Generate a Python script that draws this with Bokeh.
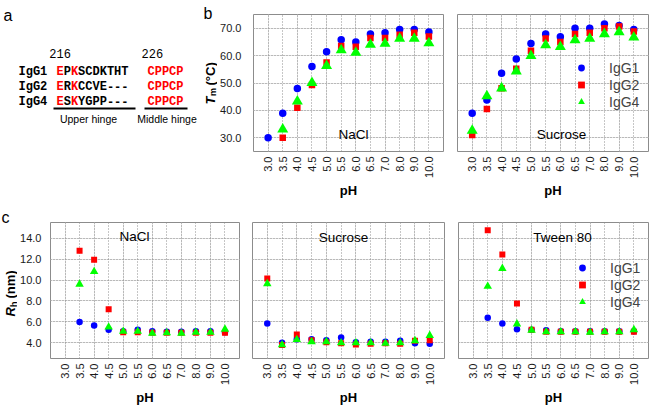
import math
from bokeh.plotting import figure
from bokeh.layouts import row, column
from bokeh.models import (Range1d, LinearAxis, Grid, FixedTicker, Label, Legend,
                          LegendItem, NumeralTickFormatter, ColumnDataSource)
from bokeh.core.properties import value
from bokeh.embed import file_html
from bokeh.resources import INLINE
try:
    from bokeh.models import GlobalInlineStyleSheet
except Exception:
    GlobalInlineStyleSheet = None

NA = float("nan")

# ---------------- data ----------------
ph_labels = ["3.0", "3.5", "4.0", "4.5", "5.0", "5.5", "6.0", "6.5", "7.0", "8.0", "9.0", "10.0"]
series_names = ["IgG1", "IgG2", "IgG4"]

tm_ticks = [30, 40, 50, 60, 70]
rh_ticks = [4, 6, 8, 10, 12, 14]

tm_nacl_igg1 = [30.0, 39.0, 48.0, 56.0, 61.4, 65.8, 65.0, 67.9, 68.3, 69.5, 69.5, 68.6]
tm_nacl_igg2 = [NA, 30.0, 41.0, 49.3, 57.5, 63.5, 63.2, 66.4, 66.4, 67.6, 68.3, 67.0]
tm_nacl_igg4 = [NA, 33.1, 43.3, 50.1, 56.3, 62.0, 61.1, 64.0, 64.4, 66.2, 66.2, 64.6]

tm_suc_igg1 = [39.0, 43.8, 53.6, 58.8, 64.4, 67.9, 66.9, 70.0, 70.0, 71.5, 71.0, 69.5]
tm_suc_igg2 = [31.0, 40.5, 48.1, 55.2, 61.8, 66.2, 65.0, 67.9, 68.3, 70.0, 70.6, 68.8]
tm_suc_igg4 = [32.6, 45.2, 48.1, 54.3, 59.9, 63.8, 63.2, 65.7, 66.2, 67.9, 68.6, 66.7]

rh_nacl_igg1 = [NA, 6.0, 5.65, 5.25, 5.1, 5.25, 5.1, 5.05, 5.05, 5.1, 5.1, 5.0]
rh_nacl_igg2 = [NA, 12.8, 11.95, 7.2, 5.0, 5.0, 4.95, 4.95, 4.95, 4.95, 4.95, 4.95]
rh_nacl_igg4 = [NA, 9.6, 10.8, 5.5, 5.1, 5.1, 4.9, 4.95, 4.9, 5.0, 5.0, 5.3]

rh_suc_igg1 = [5.85, 4.0, 4.35, 4.35, 4.25, 4.5, 4.05, 4.1, 4.1, 4.2, 3.95, 3.9]
rh_suc_igg2 = [10.15, 3.8, 4.8, 4.25, 4.05, 3.95, 3.85, 3.9, 3.95, 3.9, 4.2, 4.25]
rh_suc_igg4 = [9.65, 3.8, 4.3, 4.1, 4.1, 4.0, 4.0, 4.0, 3.95, 4.0, 4.2, 4.7]

rh_tw_igg1 = [NA, 6.4, 5.85, 5.3, 5.25, 5.2, 5.1, 5.1, 5.1, 5.1, 5.1, 5.1]
rh_tw_igg2 = [NA, 14.75, 12.45, 7.75, 5.25, 5.05, 5.05, 5.05, 5.05, 5.05, 5.05, 5.05]
rh_tw_igg4 = [NA, 9.4, 11.1, 5.8, 5.2, 5.05, 5.05, 5.05, 5.0, 5.05, 5.05, 5.25]

# sequence alignment (panel a)
seq_names = ["IgG1", "IgG2", "IgG4"]
seq_upper = ["EPKSCDKTHT", "ERKCCVE---", "ESKYGPP---"]
seq_middle = ["CPPCP", "CPPCP", "CPPCP"]
seq_red_upper = [0, 2]
seq_numbers = ["216", "226"]
region_names = ["Upper hinge", "Middle hinge"]

# ---------------- style ----------------
SANS = "Liberation Sans"
MONO = "Liberation Mono"
COLORS = ["#0000FF", "#FF0000", "#00FF00"]
MARKERS = ["circle", "square", "triangle"]
GRID_COLOR = "#8c8c8c"
FRAME_COLOR = "#8c8c8c"
TICK_FONT = "11px"
TEXT_COLOR = "#1a1a1a"

# page geometry (page origin = canvas origin)
G_b1 = dict(cx=217, cy=0, cw=233, ch=200, left=251, right=443, top=14, bottom=154, y0=25, y1=75)
G_b2 = dict(cx=450, cy=0, cw=200, ch=200, left=457, right=648, top=14, bottom=154, y0=25, y1=75)
G_c1 = dict(cx=17, cy=200, cw=229, ch=207, left=48, right=239, top=222, bottom=361, y0=2.5, y1=15.5)
G_c2 = dict(cx=246, cy=200, cw=205, ch=207, left=252, right=444, top=222, bottom=361, y0=2.5, y1=15.5)
G_c3 = dict(cx=451, cy=200, cw=199, ch=207, left=458, right=648, top=222, bottom=361, y0=2.5, y1=15.5)


def no_frame_align(p):
    try:
        p.frame_align = False
    except Exception:
        pass


def px_to_x(px, g):
    return -1 + (px - g["left"]) * (len(ph_labels) + 1) / (g["right"] - g["left"])


def px_to_y(py, g):
    return g["y1"] - (py - g["top"]) * (g["y1"] - g["y0"]) / (g["bottom"] - g["top"])


def add_label(p, g, px, py, text, size, style="normal", align="center"):
    p.add_layout(Label(x=px_to_x(px, g), y=px_to_y(py, g), text=text,
                       text_font=SANS, text_font_size=size, text_font_style=style,
                       text_align=align, text_baseline="middle", text_color="black"))


def make_panel(g, yticks, show_y, ystandoff, series, sizes):
    p = figure(width=g["cw"], height=g["ch"],
               x_range=Range1d(-1, len(ph_labels)), y_range=Range1d(g["y0"], g["y1"]),
               x_axis_location=None, y_axis_location=None,
               toolbar_location=None, output_backend="svg",
               min_border_left=g["left"] - g["cx"],
               min_border_right=g["cx"] + g["cw"] - g["right"],
               min_border_top=g["top"] - g["cy"],
               min_border_bottom=g["cy"] + g["ch"] - g["bottom"])
    no_frame_align(p)
    p.outline_line_color = FRAME_COLOR
    p.outline_line_width = 1
    p.background_fill_color = "white"
    p.border_fill_color = "white"

    xs = list(range(len(ph_labels)))
    xaxis = LinearAxis(ticker=FixedTicker(ticks=xs),
                       major_label_overrides={i: lab for i, lab in enumerate(ph_labels)})
    xaxis.major_label_orientation = math.pi / 2
    xaxis.axis_line_color = None
    xaxis.major_tick_line_color = None
    xaxis.minor_tick_line_color = None
    xaxis.major_tick_out = 0
    xaxis.major_tick_in = 0
    xaxis.major_label_standoff = 5
    xaxis.major_label_text_font = SANS
    xaxis.major_label_text_font_size = TICK_FONT
    xaxis.major_label_text_color = TEXT_COLOR
    xaxis.axis_label = "pH"
    xaxis.axis_label_standoff = 2
    xaxis.axis_label_text_font = SANS
    xaxis.axis_label_text_font_size = "13px"
    xaxis.axis_label_text_font_style = "bold"
    xaxis.axis_label_text_color = "black"
    p.add_layout(xaxis, "below")
    if show_y:
        yaxis = LinearAxis(ticker=FixedTicker(ticks=yticks),
                           formatter=NumeralTickFormatter(format="0.0"))
        yaxis.axis_line_color = None
        yaxis.major_tick_line_color = None
        yaxis.minor_tick_line_color = None
        yaxis.major_tick_out = 0
        yaxis.major_tick_in = 0
        yaxis.major_label_standoff = ystandoff
        yaxis.major_label_text_font = SANS
        yaxis.major_label_text_font_size = TICK_FONT
        yaxis.major_label_text_color = TEXT_COLOR
        p.add_layout(yaxis, "left")
    p.add_layout(Grid(dimension=0, ticker=FixedTicker(ticks=xs),
                      grid_line_color=GRID_COLOR, grid_line_dash="1 2", grid_line_width=1))
    p.add_layout(Grid(dimension=1, ticker=FixedTicker(ticks=yticks),
                      grid_line_color=GRID_COLOR, grid_line_dash="1 2", grid_line_width=1))

    renderers = []
    for vals, col, mk, sz in zip(series, COLORS, MARKERS, sizes):
        r = p.scatter(x=xs, y=vals, marker=mk, size=sz, fill_color=col, line_color=None)
        renderers.append(r)
    return p, renderers


def add_legend(p, renderers, vx, vy):
    items = [LegendItem(label=n, renderers=[r]) for n, r in zip(series_names, renderers)]
    lg = Legend(items=items, location=(vx, vy), padding=0, margin=0, spacing=0,
                glyph_width=20, glyph_height=17, label_height=17, label_standoff=18,
                border_line_color=None, background_fill_alpha=0,
                label_text_font=SANS, label_text_font_size="14px")
    p.add_layout(lg)


def text_canvas(x0, x1, y0, y1):
    """A plain figure whose frame fills its canvas, in page-pixel coordinates."""
    f = figure(width=x1 - x0, height=y1 - y0, x_range=Range1d(x0, x1), y_range=Range1d(y1, y0),
               x_axis_location=None, y_axis_location=None, toolbar_location=None,
               output_backend="svg", min_border=0)
    no_frame_align(f)
    f.outline_line_color = None
    f.grid.visible = False
    return f


def put_text(f, x, y, text, size, style="normal", font=SANS, color="black",
             align="left", baseline="middle", angle=0.0):
    f.text(x=[x], y=[y], text=[text], text_color=color, angle=angle,
           text_font=value(font), text_font_size=value(size), text_font_style=style,
           text_align=align, text_baseline=baseline)


B_SIZES = [7.5, 6.5, 11]
C_SIZES = [6.5, 6, 8.5]

fb1, rb1 = make_panel(G_b1, tm_ticks, True, 12, [tm_nacl_igg1, tm_nacl_igg2, tm_nacl_igg4], B_SIZES)
fb2, rb2 = make_panel(G_b2, tm_ticks, False, 12, [tm_suc_igg1, tm_suc_igg2, tm_suc_igg4], B_SIZES)
fc1, rc1 = make_panel(G_c1, rh_ticks, True, 9, [rh_nacl_igg1, rh_nacl_igg2, rh_nacl_igg4], C_SIZES)
fc2, rc2 = make_panel(G_c2, rh_ticks, False, 9, [rh_suc_igg1, rh_suc_igg2, rh_suc_igg4], C_SIZES)
fc3, rc3 = make_panel(G_c3, rh_ticks, False, 9, [rh_tw_igg1, rh_tw_igg2, rh_tw_igg4], C_SIZES)

add_legend(fb2, rb2, 114, 41)
add_legend(fc3, rc3, 114, 48)

# panel texts inside the frames
add_label(fb1, G_b1, 352, 137, "NaCl", "13.5px")
add_label(fb2, G_b2, 561, 137, "Sucrose", "13.5px")
add_label(fc1, G_c1, 133, 236, "NaCl", "13.5px")
add_label(fc2, G_c2, 343, 237, "Sucrose", "13.5px")
add_label(fc3, G_c3, 562, 237, "Tween 80", "13.5px")

# ---------------- y-title strips ----------------
V = math.pi / 2
fyb = text_canvas(200, 217, 0, 200)
put_text(fyb, 203, 13, "b", "16px", baseline="alphabetic")
put_text(fyb, 210, 104, "T", "13px", style="bold italic", angle=V)
put_text(fyb, 212.5, 95.5, "m", "9px", style="bold", angle=V)
put_text(fyb, 210, 85, "(°C)", "13px", style="bold", angle=V)

fyc = text_canvas(0, 17, 200, 407)
put_text(fyc, 1, 217, "c", "16px", baseline="alphabetic")
put_text(fyc, 10, 316, "R", "13px", style="bold italic", angle=V)
put_text(fyc, 13, 306.5, "h", "9px", style="bold", angle=V)
put_text(fyc, 10, 298, "(nm)", "13px", style="bold", angle=V)

# ---------------- panel a: sequence alignment ----------------
fa = text_canvas(0, 200, 0, 200)

PITCH = 7.2
NAME_X, UPPER_X, MID_X = 18, 56, 147
ROW_Y = [71, 86, 101]

xs_t, ys_t, tx_t, col_t = [], [], [], []
for name, up, mid, yy in zip(seq_names, seq_upper, seq_middle, ROW_Y):
    xs_t.append(NAME_X); ys_t.append(yy); tx_t.append(name); col_t.append("black")
    for i, ch in enumerate(up):
        xs_t.append(UPPER_X + i * PITCH); ys_t.append(yy); tx_t.append(ch)
        col_t.append("#FF0000" if i in seq_red_upper else "black")
    xs_t.append(MID_X); ys_t.append(yy); tx_t.append(mid); col_t.append("#FF0000")

src = ColumnDataSource(dict(x=xs_t, y=ys_t, text=tx_t, color=col_t))
fa.text(x="x", y="y", text="text", text_color="color", source=src,
        text_font=value(MONO), text_font_size=value("12px"), text_font_style="bold",
        text_align="left", text_baseline="middle")

num_src = ColumnDataSource(dict(x=[UPPER_X - PITCH, MID_X - 6], y=[53, 53], text=seq_numbers))
fa.text(x="x", y="y", text="text", source=num_src, text_color="black",
        text_font=value(MONO), text_font_size=value("12px"),
        text_align="left", text_baseline="middle")

n_up = len(seq_upper[0])
n_mid = len(seq_middle[0])
fa.segment(x0=[UPPER_X - 3, MID_X - 3], y0=[108, 108],
           x1=[UPPER_X + n_up * PITCH + 7, MID_X + n_mid * PITCH + 4], y1=[108, 108],
           line_color="black", line_width=2)

reg_src = ColumnDataSource(dict(x=[88, 166.5], y=[118, 118], text=region_names))
fa.text(x="x", y="y", text="text", source=reg_src, text_color="black",
        text_font=value(SANS), text_font_size=value("10.5px"),
        text_align="center", text_baseline="middle")

put_text(fa, 3, 15, "a", "16px", baseline="alphabetic")

layout = column(row(fa, fyb, fb1, fb2), row(fyc, fc1, fc2, fc3))
if GlobalInlineStyleSheet is not None:
    layout.stylesheets = [GlobalInlineStyleSheet(css="html, body { overflow: hidden; }")]

open("out.html", "w").write(file_html(layout, INLINE))
